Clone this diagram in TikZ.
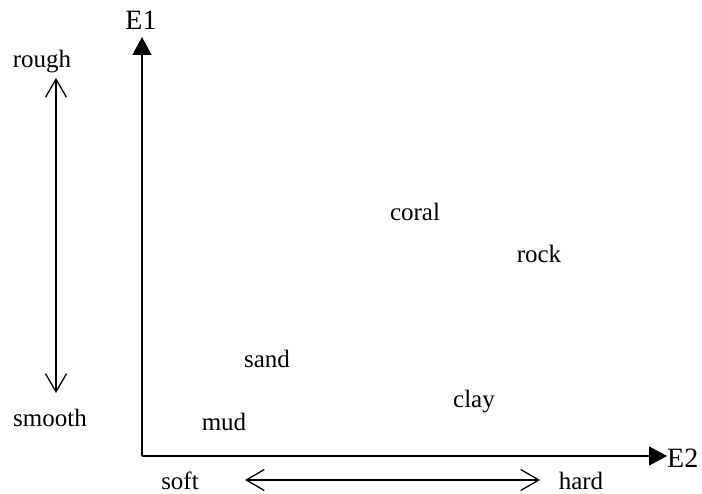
\documentclass[tikz,border=0pt]{standalone}
\usepackage{fontspec}
\setmainfont{Liberation Serif}
\usetikzlibrary{arrows.meta}
\begin{document}
\begin{tikzpicture}[x=1pt,y=-1pt,
  lbl/.style={font=\fontsize{25}{27}\selectfont, inner sep=0pt},
  big/.style={font=\fontsize{28}{30}\selectfont, inner sep=0pt},
  axis/.style={line width=1.6pt,-{Triangle[length=18pt,width=19pt]}},
  dbl/.style={line width=1.3pt,{Straight Barb[length=18pt,width=21pt,line width=1.3pt]}-{Straight Barb[length=18pt,width=21pt,line width=1.3pt]}}]
\useasboundingbox (0,0) rectangle (702,494);
\coordinate (O) at (142,456);
\coordinate (Ytip) at (142,37);
\coordinate (Xtip) at (667,456);
\draw[axis] (O) -- (Ytip);
\draw[axis] (O) -- (Xtip);
\node[big] (E1) at (141,20) {E1};
\node[big,anchor=west] (E2) at (667,458) {E2};
\coordinate (Ra) at (56,78);
\coordinate (Rb) at (56,393);
\draw[dbl] (Rb) -- (Ra);
\node[lbl] (rough) at (42,62) {rough};
\node[lbl] (smooth) at (50,418) {smooth};
\coordinate (Ha) at (245,480);
\coordinate (Hb) at (540,480);
\draw[dbl] (Ha) -- (Hb);
\node[lbl,anchor=base] (soft) at (180,489) {soft};
\node[lbl,anchor=base] (hard) at (581,489) {hard};
\node[lbl] (coral) at (415,212) {coral};
\node[lbl] (rock) at (539,254) {rock};
\node[lbl] (sand) at (267,359) {sand};
\node[lbl] (clay) at (474,402) {clay};
\node[lbl] (mud) at (224,422) {mud};
\end{tikzpicture}
\end{document}
